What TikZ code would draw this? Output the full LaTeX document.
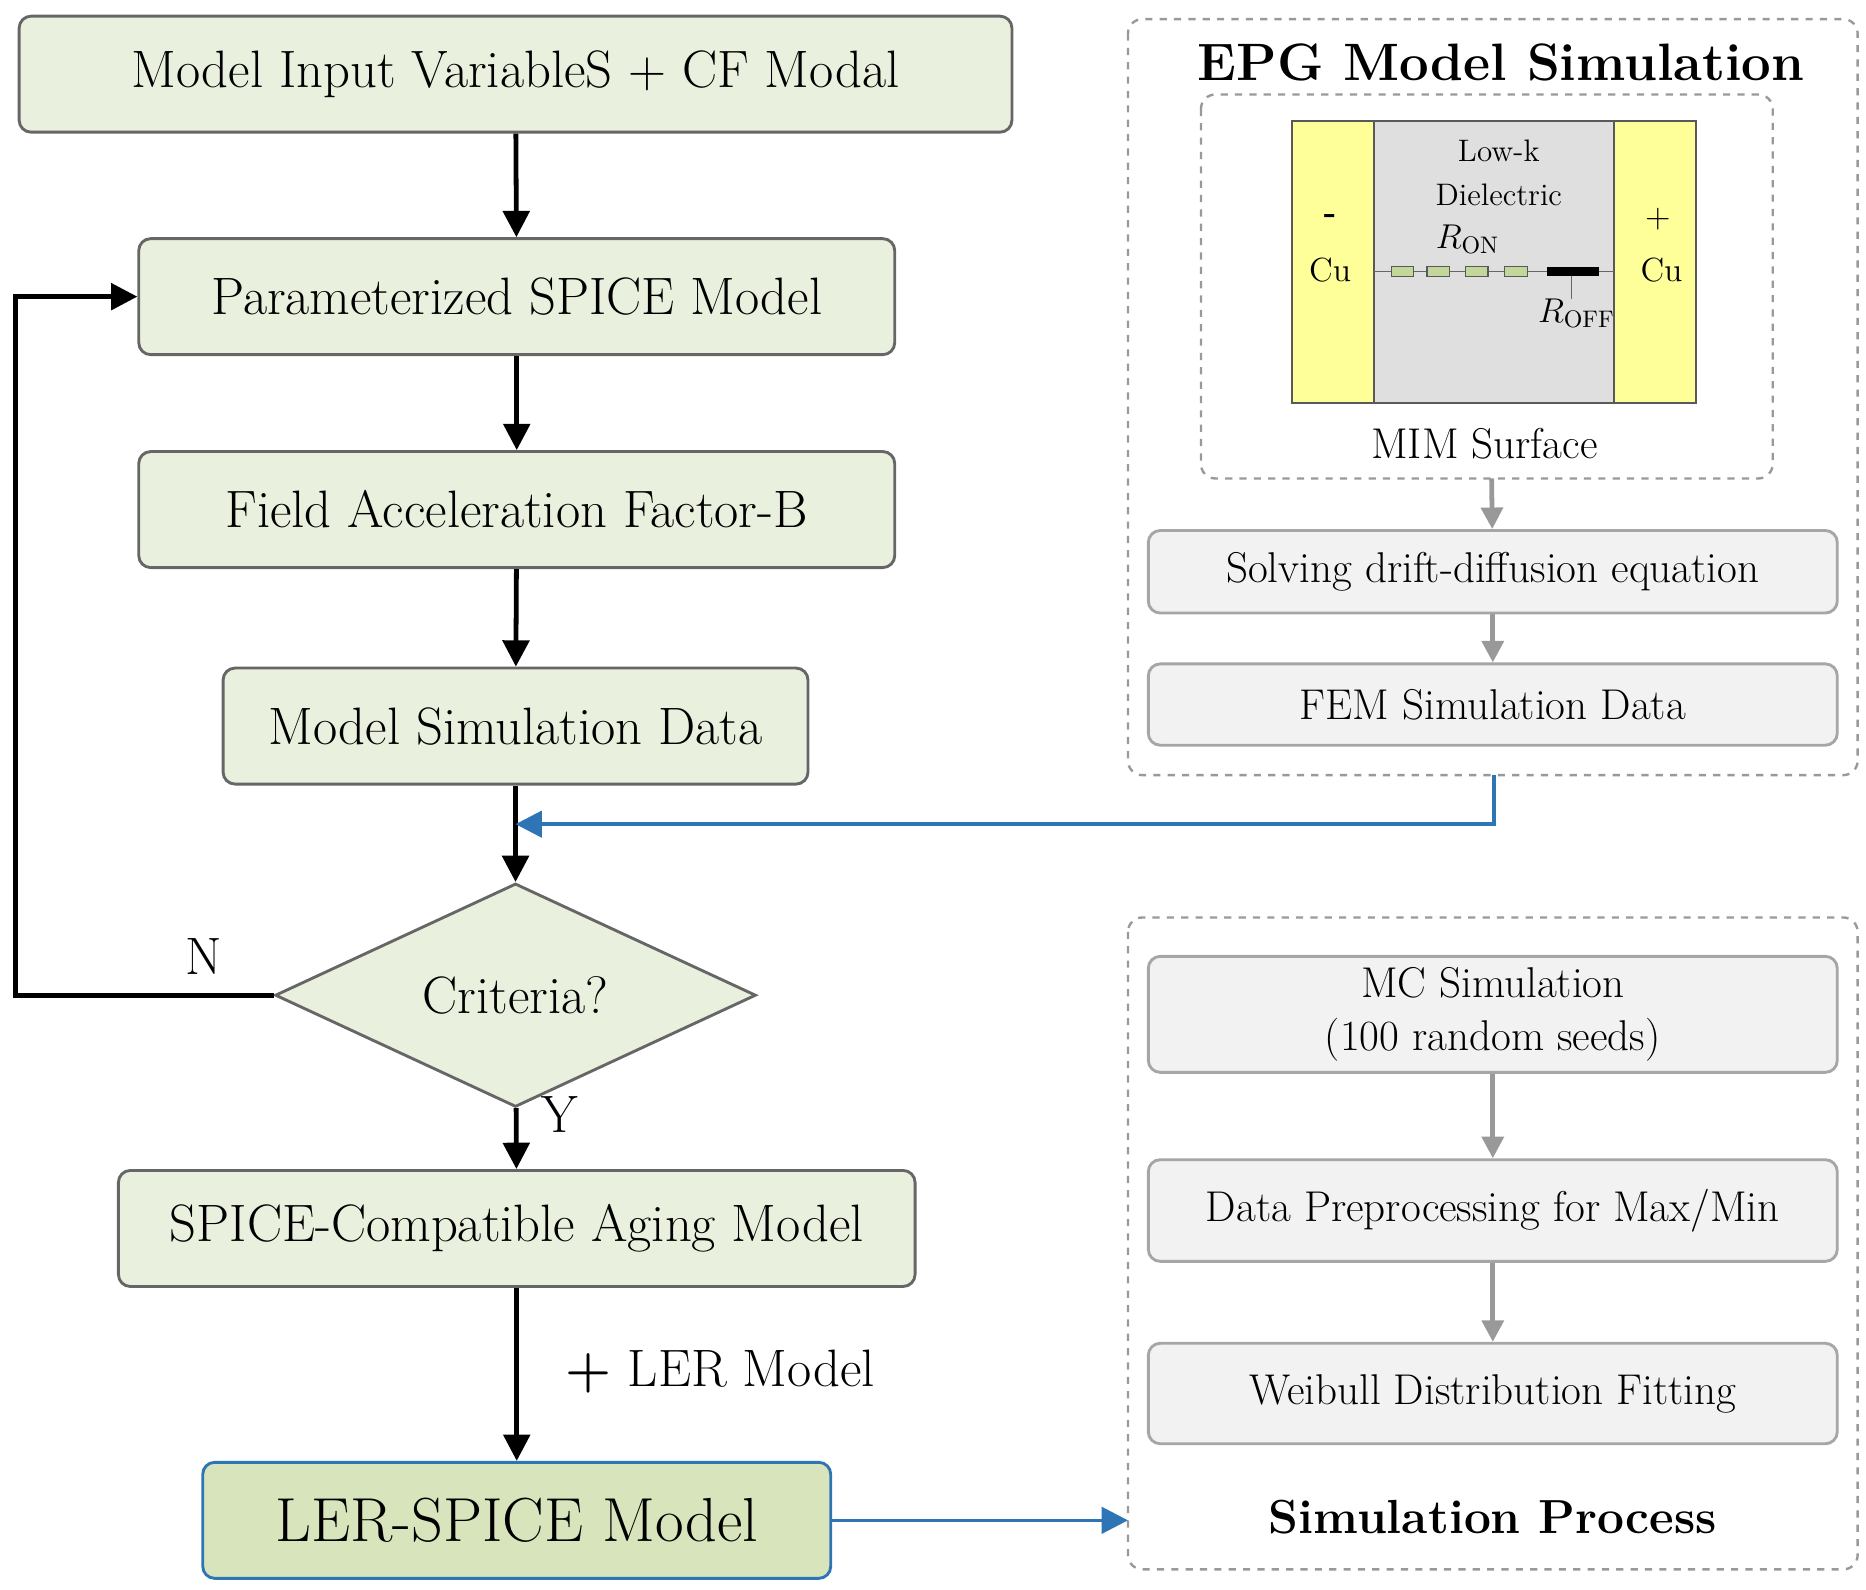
\documentclass[tikz,border=0pt]{standalone}
\usetikzlibrary{shapes.geometric,arrows.meta}
\definecolor{lgreen}{RGB}{234,240,222}
\definecolor{dgreen}{RGB}{216,228,188}
\definecolor{rgreen}{RGB}{196,215,155}
\definecolor{lgray}{RGB}{242,242,242}
\definecolor{myblue}{RGB}{46,117,182}
\definecolor{myyellow}{RGB}{255,255,153}
\begin{document}
\begin{tikzpicture}[x=0.5pt,y=-0.5pt,
  gbox/.style={draw=gray!80!black,line width=1.2pt,rounded corners=5pt,fill=lgreen,inner sep=0pt},
  sbox/.style={draw=gray!70,line width=1.2pt,rounded corners=5pt,fill=lgray,inner sep=0pt},
  dbox/.style={draw=gray!80,dashed,line width=1pt,rounded corners=6pt},
  big/.style={font=\fontsize{22}{26}\selectfont},
  med/.style={font=\fontsize{18}{22}\selectfont},
  arr/.style={-{Triangle[length=11pt,width=11pt]},line width=2pt},
  garr/.style={-{Triangle[length=9pt,width=9pt]},line width=2pt,gray!80},
  barr/.style={-{Triangle[length=11pt,width=11pt]},line width=1.5pt,myblue}]
\useasboundingbox (0,0) rectangle (1560,1329);
% left flow
\node[gbox,big,minimum width=415pt,minimum height=48.5pt] (b1) at (431,62) {Model Input VariableS + CF Modal};
\node[gbox,big,minimum width=316pt,minimum height=48.5pt] (b2) at (432,248) {Parameterized SPICE Model};
\node[gbox,big,minimum width=316pt,minimum height=48.5pt] (b3) at (432,426) {Field Acceleration Factor-B};
\node[gbox,big,minimum width=244.5pt,minimum height=48.5pt] (b4) at (431,607) {Model Simulation Data};
\node[diamond,draw=gray!80!black,line width=1.2pt,fill=lgreen,big,minimum width=201pt,minimum height=75.5pt,inner sep=0pt] (d) at (431,832) {Criteria?};
\node[gbox,big,minimum width=333pt,minimum height=48.5pt] (b5) at (432,1027) {SPICE-Compatible Aging Model};
\node[gbox,draw=myblue,fill=dgreen,font=\fontsize{26}{30}\selectfont,minimum width=262.5pt,minimum height=48.5pt] (b6) at (432,1271) {LER-SPICE Model};
\draw[arr] (b1) -- (b2);
\draw[arr] (b2) -- (b3);
\draw[arr] (b3) -- (b4);
\draw[arr] (b4) -- (d);
\draw[arr] (d) -- (b5);
\draw[arr] (b5) -- (b6);
\node[big,anchor=west] at (466,1147) {\textbf{+} LER Model};
\node[big] at (468,932) {Y};
\node[big] at (170,800) {N};
\coordinate (c1) at (13,832);
\coordinate (c2) at (13,248);
\draw[arr] (d.west) -- (c1) -- (c2) -- (b2.west);
% EPG
\draw[dbox] (943,16) rectangle (1553,648);
\node[font=\fontsize{22}{26}\selectfont\bfseries] at (1255,52) {EPG Model Simulation};
\draw[dbox] (1004,79) rectangle (1482,400);
\coordinate (mimb) at (1247,400);
\fill[myyellow] (1080,101) rectangle (1418,337);
\fill[gray!25] (1149,101) rectangle (1349,337);
\draw[gray!70!black,line width=0.8pt] (1080,101) rectangle (1418,337) (1149,101) -- (1149,337) (1349,101) -- (1349,337);
\draw[gray!80!black,line width=0.6pt] (1149,227) -- (1349,227) (1314,227) -- (1314,250);
\foreach \a in {1163,1193,1225,1258}
  \draw[gray!70!black,fill=rgreen,line width=0.5pt] (\a,223) rectangle (\a+19,231);
\fill[black] (1293,223) rectangle (1337,231);
\node[font=\fontsize{13}{16}\selectfont] at (1253,126) {Low-k};
\node[font=\fontsize{13}{16}\selectfont] at (1253,163) {Dielectric};
\node[font=\fontsize{14}{16}\selectfont] at (1227,200) {$R_{\mathrm{ON}}$};
\node[font=\fontsize{14}{16}\selectfont] at (1318,262) {$R_{\mathrm{OFF}}$};
\node[font=\fontsize{14}{16}\selectfont\bfseries] at (1112,183) {-};
\node[font=\fontsize{14}{16}\selectfont] at (1112,226) {Cu};
\node[font=\fontsize{14}{16}\selectfont] at (1386,183) {+};
\node[font=\fontsize{14}{16}\selectfont] at (1389,226) {Cu};
\node[med] at (1241,371) {MIM Surface};
\node[sbox,med,minimum width=288pt,minimum height=34.5pt] (s1) at (1248,478) {Solving drift-diffusion equation};
\node[sbox,med,minimum width=288pt,minimum height=34pt] (s2) at (1248,589) {FEM Simulation Data};
\draw[garr] (mimb) -- (s1);
\draw[garr] (s1) -- (s2);
\coordinate (fb) at (1249,648);
\coordinate (fc) at (1249,689);
\coordinate (fd) at (431,689);
\draw[barr] (fb) -- (fc) -- (fd);
% Simulation process
\draw[dbox] (943,767) rectangle (1553,1312);
\node[sbox,med,minimum width=288pt,minimum height=48.5pt,align=center] (m1) at (1248,848) {MC Simulation\\(100 random seeds)};
\node[sbox,med,minimum width=288pt,minimum height=42.5pt] (m2) at (1248,1012) {Data Preprocessing for Max/Min};
\node[sbox,med,minimum width=288pt,minimum height=42pt] (m3) at (1248,1165) {Weibull Distribution Fitting};
\draw[garr] (m1) -- (m2);
\draw[garr] (m2) -- (m3);
\node[font=\fontsize{20}{24}\selectfont\bfseries] at (1248,1268) {Simulation Process};
\coordinate (sp) at (943,1271);
\draw[barr] (b6.east) -- (sp);
\end{tikzpicture}
\end{document}
